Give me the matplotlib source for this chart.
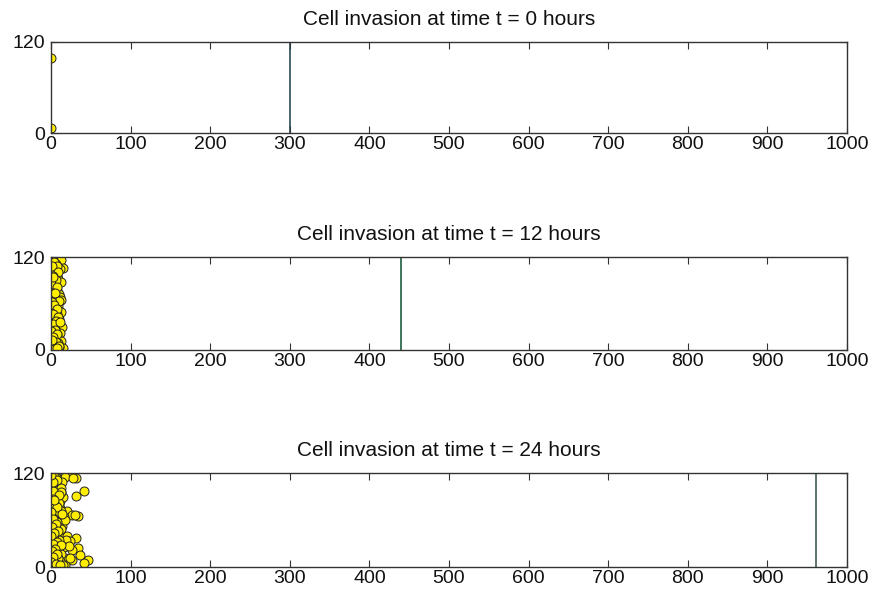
import matplotlib
matplotlib.use('Agg')
import matplotlib.pyplot as plt

plt.rcParams['font.family'] = ['Liberation Sans', 'DejaVu Sans']

### Snapshot times and the position of the invading front in each
times = [0, 12, 24]
front_x = [300, 440, 961]
front_colors = ['#3b5862', '#2f6b4d', '#4f6862']

### Cell positions (x, y) at each snapshot
cells_x_0 = [0, 0]
cells_y_0 = [99, 7]

cells_x_12 = [1, 3, 5, 8, 10, 13, 2, 6, 15, 11, 4, 0, 7, 9, 12, 2, 5, 1, 8, 3,
              10, 6, 0, 4, 11, 13, 2, 7, 9, 1, 5, 3, 12, 8, 0, 6, 10, 4, 2, 7,
              9, 1, 14, 5, 3, 11, 0, 8, 6, 2, 12, 4, 9, 1, 7, 3, 15, 10, 5, 0,
              4, 7, 1, 9, 3, 6, 0, 8, 2, 5, 10, 1, 4, 7, 0, 3, 9, 6, 2, 11,
              5, 0, 8, 3, 6, 1, 10, 4, 7, 2]
cells_y_12 = [118, 117, 116, 117, 115, 116, 112, 111, 106, 104, 100, 98, 96, 92, 88, 86, 83, 80, 78, 76,
              72, 70, 68, 66, 69, 64, 61, 59, 57, 55, 52, 50, 49, 46, 44, 42, 40, 38, 35, 33,
              31, 29, 30, 27, 24, 22, 20, 19, 16, 14, 12, 11, 9, 7, 6, 4, 3, 4, 2, 1,
              114, 108, 109, 101, 95, 90, 85, 81, 74, 73, 63, 62, 58, 53, 48, 47, 43, 37, 34, 36,
              26, 25, 21, 17, 10, 13, 5, 1, 2, 94]

cells_x_24 = [2, 9, 17, 22, 32, 42, 31, 5, 11, 3, 11, 5, 11, 20, 26, 34, 3, 9, 1, 7,
              11, 20, 32, 24, 15, 5, 34, 26, 11, 36, 3, 18, 26, 47, 41, 9, 18, 1, 2, 5,
              21, 17, 0, 6, 14, 8, 4, 12, 1, 7, 15, 3, 10, 0, 6, 13, 2, 8, 16, 4,
              0, 9, 14, 3, 7, 12, 1, 19, 5, 10, 0, 6, 16, 2, 8, 13, 4, 0, 11, 7,
              3, 15, 1, 9, 5, 22, 0, 12, 6, 28, 2, 17, 8, 4, 30, 1, 13, 0, 24, 6,
              1, 4, 7, 0, 3, 10, 2, 5, 8, 0, 14, 3, 6, 1, 9, 4, 0, 7, 2, 12,
              5, 1, 8, 3, 0, 6, 11, 2, 4, 0]
cells_y_24 = [118, 117, 118, 118, 113, 97, 91, 101, 107, 91, 84, 78, 75, 72, 67, 65, 67, 63, 54, 50,
              43, 40, 37, 33, 31, 31, 24, 22, 20, 15, 14, 12, 9, 9, 5, 5, 3, 3, 113, 41,
              117, 115, 110, 112, 109, 104, 99, 96, 94, 88, 89, 86, 82, 80, 76, 71, 73, 69, 64, 60,
              58, 56, 52, 47, 45, 48, 41, 35, 38, 34, 29, 27, 26, 24, 18, 17, 19, 10, 8, 7,
              1, 2, 0, 12, 22, 27, 106, 101, 93, 114, 62, 60, 57, 36, 66, 83, 96, 25, 11, 115,
              119, 116, 111, 103, 97, 92, 87, 79, 77, 70, 68, 61, 55, 51, 46, 44, 39, 32, 30, 28,
              23, 21, 16, 13, 6, 4, 2, 108, 85, 118]

cells_x = [cells_x_0, cells_x_12, cells_x_24]
cells_y = [cells_y_0, cells_y_12, cells_y_24]

fig = plt.figure(figsize=(8.75, 5.94), dpi=100)

left = 51 / 875.0
width = (847 - 51) / 875.0
tops = [42, 257, 473]
bottoms = [133, 350, 567]

for k in range(3):
    ax = fig.add_axes([left, 1 - bottoms[k] / 594.0, width, (bottoms[k] - tops[k]) / 594.0])
    ax.axvline(front_x[k], color=front_colors[k], linewidth=1.3, zorder=1)
    ax.scatter(cells_x[k], cells_y[k], s=42, facecolor='#ffee00', edgecolor='#222222',
               linewidths=0.7, zorder=2)
    ax.set_xlim(0, 1000)
    ax.set_ylim(0, 120)
    ax.set_xticks(range(0, 1001, 100))
    ax.set_yticks([0, 120])
    ax.tick_params(direction='in', length=5, width=0.8, color='#333333',
                   top=True, right=True, labelsize=14, labelcolor='#111111')
    ax.tick_params(axis='x', pad=2)
    ax.tick_params(axis='y', pad=4)
    for sp in ax.spines.values():
        sp.set_color('#333333')
        sp.set_linewidth(1.0)
    ax.set_title('Cell invasion at time t = %d hours' % times[k], fontsize=15, pad=12,
                 color='#111111')

plt.savefig('out.png', dpi=100)
